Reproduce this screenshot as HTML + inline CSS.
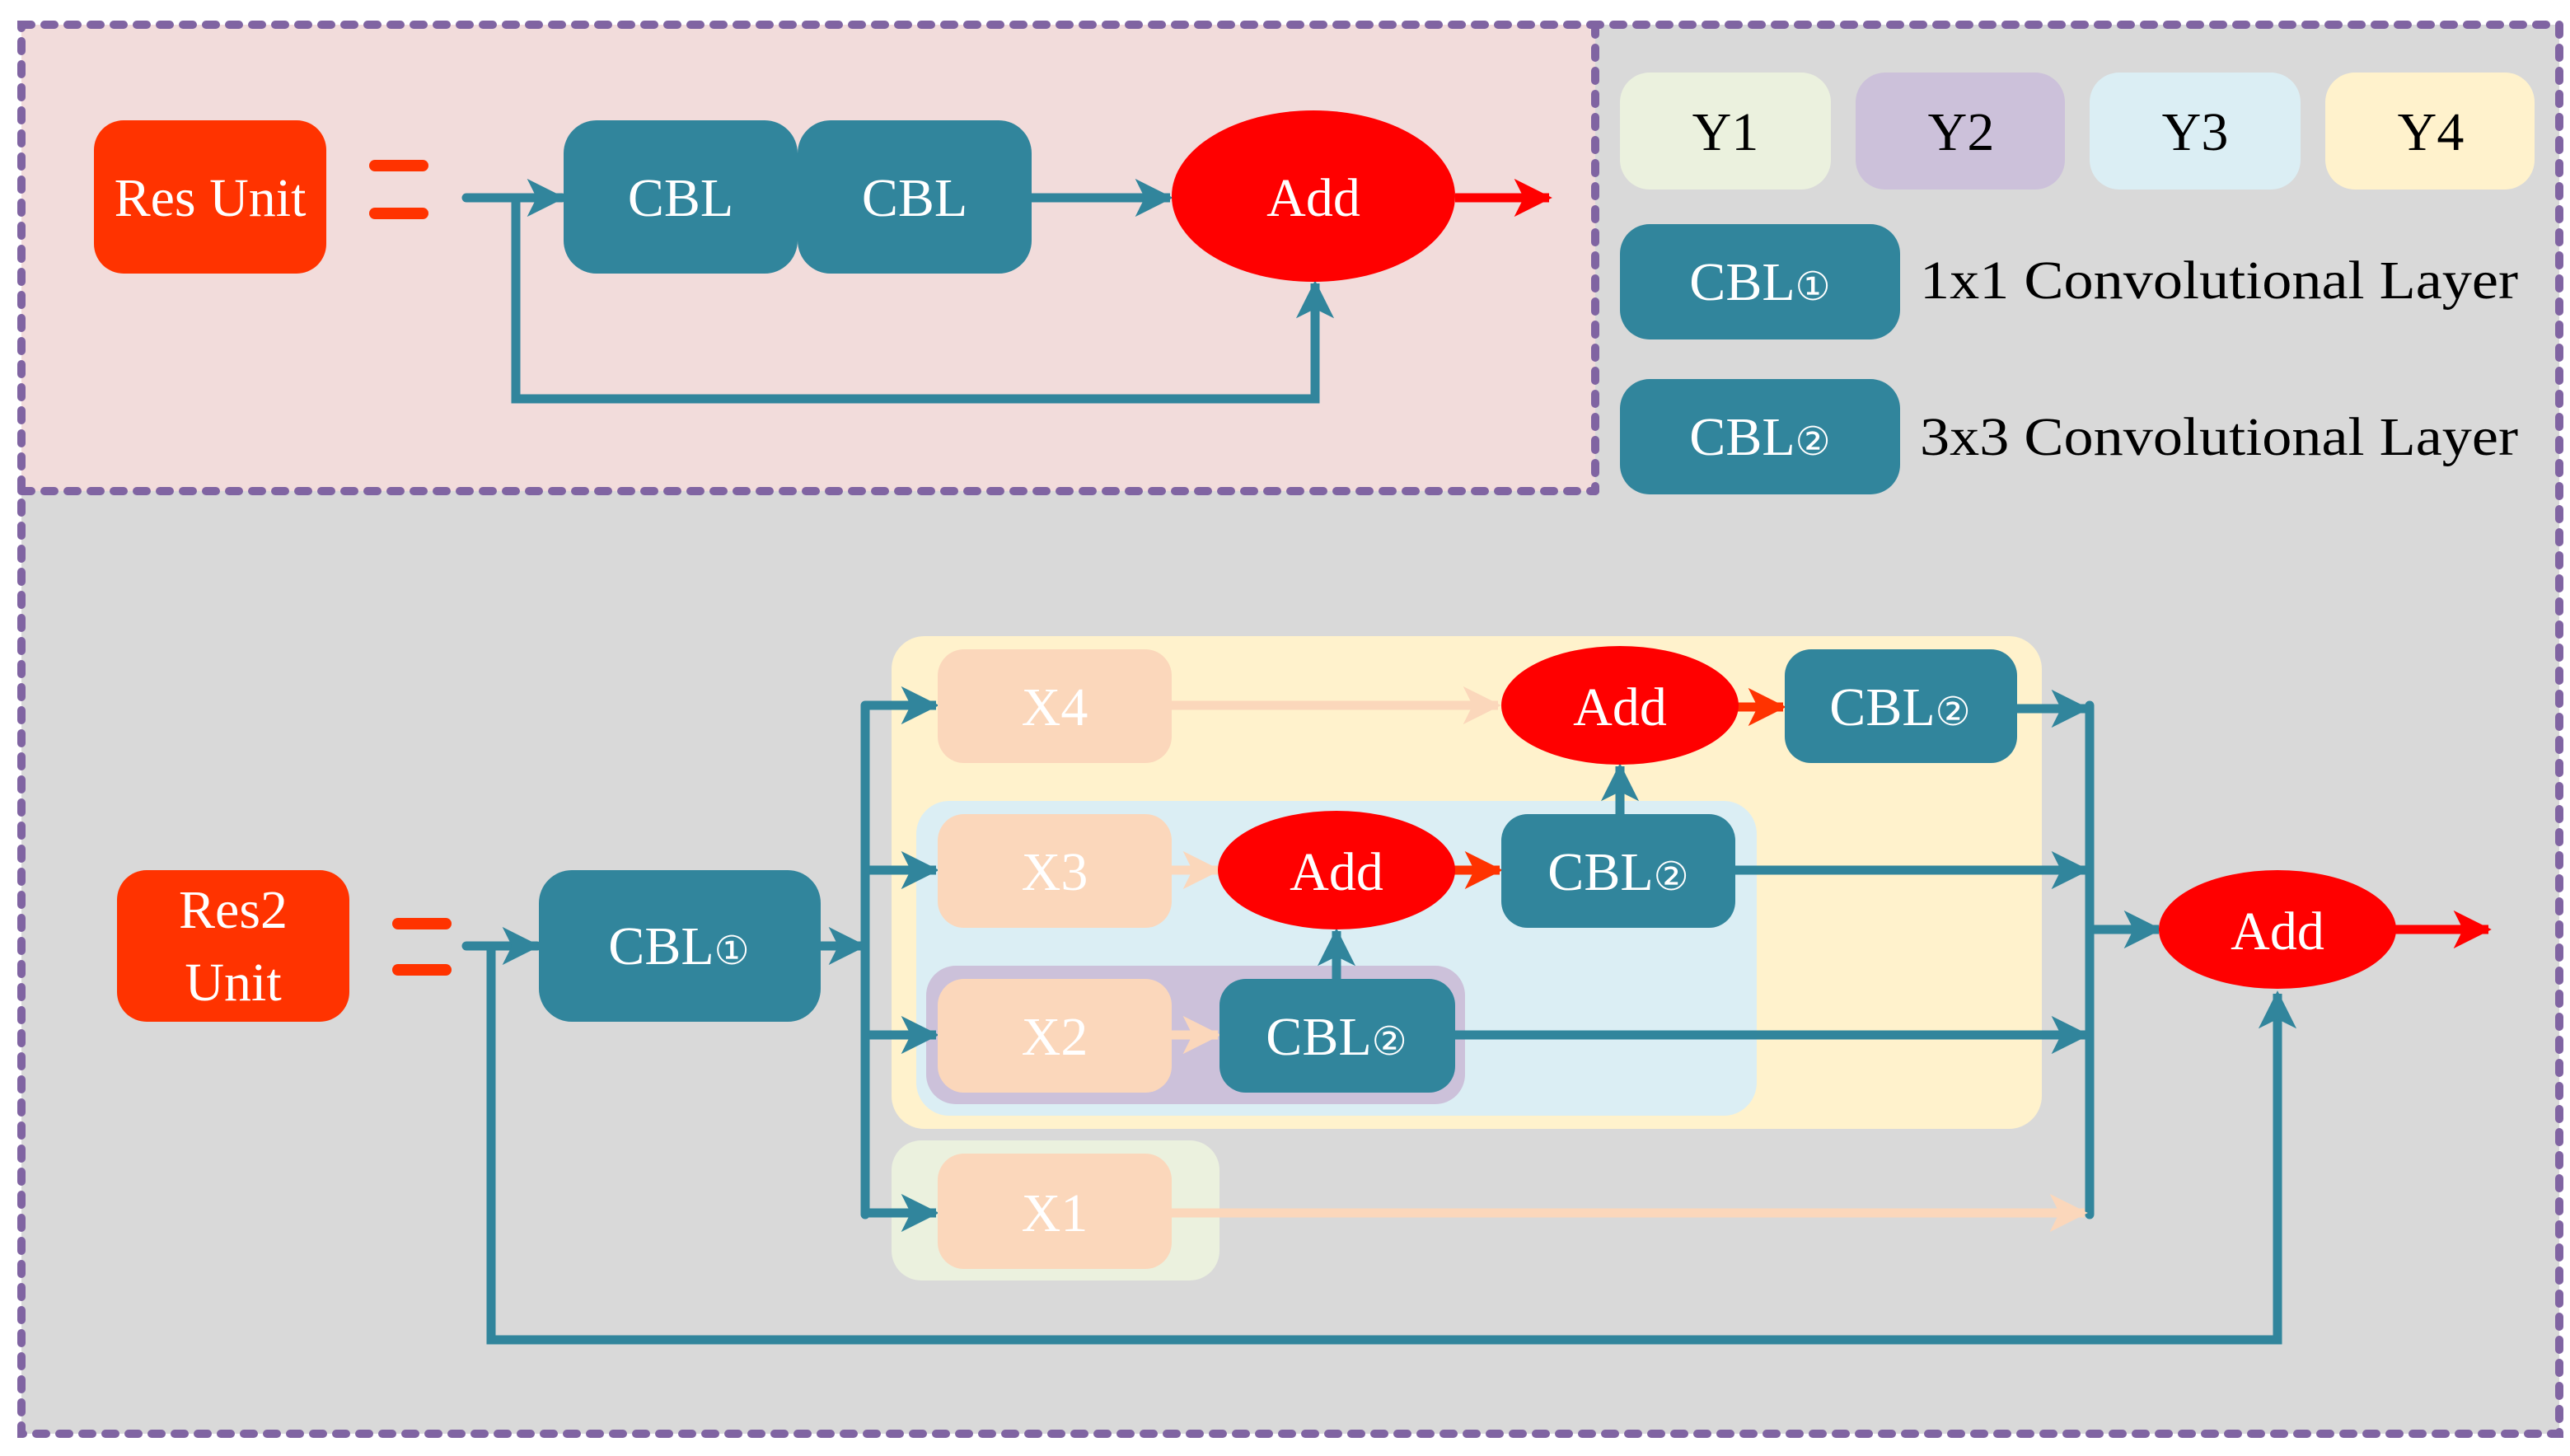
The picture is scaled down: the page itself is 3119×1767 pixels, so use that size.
<!DOCTYPE html>
<html><head><meta charset="utf-8"><style>html,body{margin:0;padding:0;background:#fff}svg{display:block}text{font-family:"Liberation Serif","DejaVu Serif",serif}</style></head>
<body>
<svg width="3119" height="1767" viewBox="0 0 1559.5 883.5" xmlns="http://www.w3.org/2000/svg">
<defs>
<marker id="at" viewBox="0 0 12 12" refX="11" refY="6" markerWidth="4.2" markerHeight="4.2" markerUnits="strokeWidth" orient="auto"><path d="M0,0 L12,6 L0,12 L3,6 Z" fill="#31859c"/></marker>
<marker id="ar" viewBox="0 0 12 12" refX="11" refY="6" markerWidth="4.2" markerHeight="4.2" markerUnits="strokeWidth" orient="auto"><path d="M0,0 L12,6 L0,12 L3,6 Z" fill="#ff0000"/></marker>
<marker id="ao" viewBox="0 0 12 12" refX="11" refY="6" markerWidth="4.2" markerHeight="4.2" markerUnits="strokeWidth" orient="auto"><path d="M0,0 L12,6 L0,12 L3,6 Z" fill="#ff3300"/></marker>
<marker id="ap" viewBox="0 0 12 12" refX="11" refY="6" markerWidth="4.2" markerHeight="4.2" markerUnits="strokeWidth" orient="auto"><path d="M0,0 L12,6 L0,12 L3,6 Z" fill="#fbd7bb"/></marker>
</defs>
<rect x="0" y="0" width="1559.5" height="883.5" fill="#fff"/>
<rect x="13" y="15" width="1540" height="855" fill="#d9d9d9"/>
<rect x="13" y="15" width="955" height="283" fill="#f2dcdb"/>
<g fill="none" stroke="#8064a2" stroke-width="5" stroke-dasharray="6 8" stroke-linecap="round">
<rect x="13" y="15" width="1540" height="855"/>
<line x1="13" y1="298" x2="968" y2="298"/>
<line x1="968" y1="15" x2="968" y2="298"/>
</g>
<!-- top -->
<rect x="57" y="73" width="141" height="93" rx="18" fill="#ff3300"/>
<text x="127.5" y="131" font-size="33" fill="#fff" text-anchor="middle">Res Unit</text>
<rect x="224" y="97" width="36" height="7" rx="3.5" fill="#ff3300"/>
<rect x="224" y="126" width="36" height="7" rx="3.5" fill="#ff3300"/>
<g stroke="#31859c" stroke-width="5.5" fill="none">
<line x1="283" y1="120" x2="341" y2="120" marker-end="url(#at)" stroke-linecap="round"/>
<polyline points="313,120 313,242 798,242 798,172" marker-end="url(#at)"/>
<line x1="626" y1="120" x2="710" y2="120" marker-end="url(#at)"/>
</g>
<rect x="342" y="73" width="142" height="93" rx="20" fill="#31859c"/>
<rect x="484" y="73" width="142" height="93" rx="20" fill="#31859c"/>
<text x="413" y="131" font-size="33" fill="#fff" text-anchor="middle">CBL</text>
<text x="555" y="131" font-size="33" fill="#fff" text-anchor="middle">CBL</text>
<ellipse cx="797" cy="119" rx="86" ry="52" fill="#ff0000"/>
<text x="797" y="131" font-size="33" fill="#fff" text-anchor="middle">Add</text>
<line x1="883" y1="120" x2="940" y2="120" stroke="#ff0000" stroke-width="5.5" marker-end="url(#ar)"/>
<!-- legend -->
<rect x="983" y="44" width="128" height="71" rx="18" fill="#ebf1de"/>
<rect x="1126" y="44" width="127" height="71" rx="18" fill="#ccc1da"/>
<rect x="1268" y="44" width="128" height="71" rx="18" fill="#dbeef4"/>
<rect x="1411" y="44" width="127" height="71" rx="18" fill="#fff2cc"/>
<g font-size="33" fill="#000" text-anchor="middle">
<text x="1047" y="91">Y1</text><text x="1190" y="91">Y2</text><text x="1332" y="91">Y3</text><text x="1475" y="91">Y4</text>
</g>
<rect x="983" y="136" width="170" height="70" rx="18" fill="#31859c"/>
<rect x="983" y="230" width="170" height="70" rx="18" fill="#31859c"/>
<text x="1068" y="182" font-size="33" fill="#fff" text-anchor="middle">CBL<tspan font-size="24">①</tspan></text>
<text x="1068" y="276" font-size="33" fill="#fff" text-anchor="middle">CBL<tspan font-size="24">②</tspan></text>
<text x="1165" y="181" font-size="33" fill="#000" textLength="363" lengthAdjust="spacingAndGlyphs">1x1 Convolutional Layer</text>
<text x="1165" y="276" font-size="33" fill="#000" textLength="363" lengthAdjust="spacingAndGlyphs">3x3 Convolutional Layer</text>
<!-- bottom -->
<rect x="541" y="386" width="698" height="299" rx="20" fill="#fff2cc"/>
<rect x="556" y="486" width="510" height="191" rx="20" fill="#dbeef4"/>
<rect x="562" y="586" width="327" height="84" rx="18" fill="#ccc1da"/>
<rect x="541" y="692" width="199" height="85" rx="18" fill="#ebf1de"/>
<rect x="71" y="528" width="141" height="92" rx="18" fill="#ff3300"/>
<text x="141.5" y="563" font-size="33" fill="#fff" text-anchor="middle">Res2</text>
<text x="141.5" y="607" font-size="33" fill="#fff" text-anchor="middle">Unit</text>
<rect x="238" y="557" width="36" height="7" rx="3.5" fill="#ff3300"/>
<rect x="238" y="585" width="36" height="7" rx="3.5" fill="#ff3300"/>
<g stroke="#31859c" stroke-width="5.5" fill="none">
<line x1="283" y1="574" x2="326" y2="574" marker-end="url(#at)" stroke-linecap="round"/>
<polyline points="298,574 298,813 1382,813 1382,603" marker-end="url(#at)"/>
<line x1="498" y1="574" x2="524" y2="574" marker-end="url(#at)"/>
<line x1="525" y1="428" x2="525" y2="737" stroke-linecap="round"/>
<line x1="525" y1="428" x2="568" y2="428" marker-end="url(#at)"/>
<line x1="525" y1="528" x2="568" y2="528" marker-end="url(#at)"/>
<line x1="525" y1="628" x2="568" y2="628" marker-end="url(#at)"/>
<line x1="525" y1="736" x2="568" y2="736" marker-end="url(#at)"/>
<line x1="1224" y1="430" x2="1266" y2="430" marker-end="url(#at)"/>
<line x1="1053" y1="528" x2="1266" y2="528" marker-end="url(#at)"/>
<line x1="883" y1="628" x2="1266" y2="628" marker-end="url(#at)"/>
<line x1="983" y1="494" x2="983" y2="465" marker-end="url(#at)"/>
<line x1="811" y1="594" x2="811" y2="565" marker-end="url(#at)"/>
<line x1="1268" y1="428" x2="1268" y2="737" stroke-linecap="round"/>
<line x1="1268" y1="564" x2="1310" y2="564" marker-end="url(#at)"/>
</g>
<g stroke="#fbd7bb" stroke-width="5.5">
<line x1="711" y1="428" x2="909" y2="428" marker-end="url(#ap)"/>
<line x1="711" y1="528" x2="739" y2="528" marker-end="url(#ap)"/>
<line x1="711" y1="628" x2="739" y2="628" marker-end="url(#ap)"/>
<line x1="711" y1="736" x2="1265" y2="736" marker-end="url(#ap)"/>
</g>
<g stroke="#ff3300" stroke-width="5.5">
<line x1="1053" y1="429" x2="1082" y2="429" marker-end="url(#ao)"/>
<line x1="880" y1="528" x2="910" y2="528" marker-end="url(#ao)"/>
</g>
<g fill="#fbd7bb">
<rect x="569" y="394" width="142" height="69" rx="16"/>
<rect x="569" y="494" width="142" height="69" rx="16"/>
<rect x="569" y="594" width="142" height="69" rx="16"/>
<rect x="569" y="700" width="142" height="70" rx="16"/>
</g>
<g font-size="33" fill="#fff" text-anchor="middle">
<text x="640" y="440">X4</text><text x="640" y="540">X3</text><text x="640" y="640">X2</text><text x="640" y="747">X1</text>
</g>
<rect x="327" y="528" width="171" height="92" rx="20" fill="#31859c"/>
<text x="412" y="585" font-size="33" fill="#fff" text-anchor="middle">CBL<tspan font-size="24">①</tspan></text>
<rect x="1083" y="394" width="141" height="69" rx="16" fill="#31859c"/>
<rect x="911" y="494" width="142" height="69" rx="16" fill="#31859c"/>
<rect x="740" y="594" width="143" height="69" rx="16" fill="#31859c"/>
<g font-size="33" fill="#fff" text-anchor="middle">
<text x="1153" y="440">CBL<tspan font-size="24">②</tspan></text>
<text x="982" y="540">CBL<tspan font-size="24">②</tspan></text>
<text x="811" y="640">CBL<tspan font-size="24">②</tspan></text>
</g>
<ellipse cx="983" cy="428" rx="72" ry="36" fill="#ff0000"/>
<ellipse cx="811" cy="528" rx="72" ry="36" fill="#ff0000"/>
<ellipse cx="1382" cy="564" rx="72" ry="36" fill="#ff0000"/>
<g font-size="33" fill="#fff" text-anchor="middle">
<text x="983" y="440">Add</text><text x="811" y="540">Add</text><text x="1382" y="576">Add</text>
</g>
<line x1="1453" y1="564" x2="1510" y2="564" stroke="#ff0000" stroke-width="5.5" marker-end="url(#ar)"/>
</svg>
</body></html>
